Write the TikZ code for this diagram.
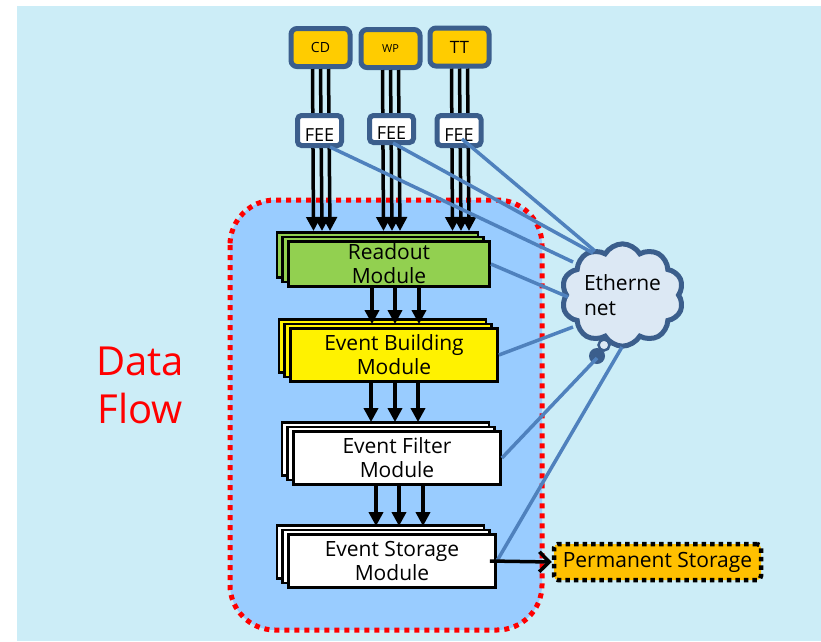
\documentclass[tikz,border=0pt]{standalone}
\usepackage{fontspec}
\setmainfont{Open Sans}
\usetikzlibrary{calc}
\usetikzlibrary{shapes,shadows}
\usetikzlibrary{arrows.meta}
\definecolor{bgcyan}{RGB}{204,237,247}
\definecolor{areablue}{RGB}{153,204,255}
\definecolor{frameblue}{RGB}{59,94,140}
\definecolor{lanblue}{RGB}{79,129,189}
\definecolor{detgold}{RGB}{255,204,0}
\definecolor{permgold}{RGB}{255,192,0}
\definecolor{rogreen}{RGB}{146,208,80}
\definecolor{cloudfill}{RGB}{220,232,244}
\tikzstyle{det} = [draw=frameblue, line width=5pt, fill=detgold, rounded corners=6pt, minimum width=59pt, minimum height=38pt, inner sep=0pt]
\tikzstyle{fee} = [draw=frameblue, line width=5pt, fill=white, rounded corners=4pt, minimum width=44pt, minimum height=30pt, inner sep=0pt, font=\fontsize{18}{18}\selectfont, text height=21pt, text depth=0pt]
\tikzstyle{bus} = [line width=3.5pt, -{Triangle[length=14pt,width=14pt]}]
\tikzstyle{lan} = [draw=lanblue, line width=3.5pt]
\tikzset{modbox/.style={draw=black, line width=2.8pt, fill=#1, minimum width=207pt, minimum height=53pt, inner sep=0pt, align=center, font=\fontsize{21}{24}\selectfont,
  copy shadow={shadow xshift=-11.5pt, shadow yshift=9pt, fill=#1, draw=black, line width=2.8pt, opacity=1},
  copy shadow={shadow xshift=-5.75pt, shadow yshift=4.5pt, fill=#1, draw=black, line width=2.8pt, opacity=1}}}

\begin{document}
\begin{tikzpicture}[x=1pt, y=-1pt]

	\useasboundingbox (0,0) rectangle (821,641);
	\fill[bgcyan] (17,6) rectangle (821,641);

	% data flow area
	\draw[fill=areablue, draw=red, line width=5pt, dash pattern=on 5pt off 5pt, rounded corners=45pt] (230,200) rectangle (542,630);
	\node[text=red, align=center, font=\fontsize{40}{48}\selectfont] (title) at (140,385) {Data\\Flow};

	% detectors
	\node[det, font=\fontsize{14}{14}\selectfont] (cd) at (320.5,47.5) {CD};
	\node[det, font=\fontsize{11}{11}\selectfont] (wp) at (390.5,48.5) {WP};
	\node[det, font=\fontsize{17}{17}\selectfont] (tt) at (459.5,47) {TT};

	% modules
	\node[modbox=rogreen, minimum width=201pt, minimum height=45pt] (ro) at (389,264) {Readout\\Module};
	\node[modbox=yellow] (eb) at (394,355) {Event Building\\Module};
	\node[modbox=white] (ef) at (397,458) {Event Filter\\Module};
	\node[modbox=white] (es) at (392,561) {Event Storage\\Module};

	\coordinate (rotop) at (389,231);

	\foreach \d in {cd,wp,tt}
		\foreach \dx/\ex in {-8/-7,0/1.5,8/9.5}
			\draw[bus] ([xshift=\dx pt]\d.south) -- ([xshift=\ex pt]\d.south |- rotop);

	\foreach \dx in {-22,1,25}
		\draw[bus] ([xshift=\dx pt]eb.north |- ro.south) -- ([xshift=\dx pt, yshift=3pt]eb.north);
	\foreach \dx in {-26,-2,21}
		\draw[bus] ([xshift=\dx pt]ef.north |- eb.south) -- ([xshift=\dx pt, yshift=8pt]ef.north);
	\foreach \dx in {-16,7,31}
		\draw[bus] ([xshift=\dx pt]es.north |- ef.south) -- ([xshift=\dx pt, yshift=7pt]es.north);

	% front end electronics
	\node[fee] (cdfee) at (319.5,130.5) {FEE};
	\node[fee, minimum height=27pt] (wpfee) at (391.5,129) {FEE};
	\node[fee] (ttfee) at (459,130.5) {FEE};

	% ethernet
	\node[cloud, cloud puffs=10, cloud puff arc=120, aspect=1.25, draw=frameblue, line width=5pt, fill=cloudfill, minimum width=122pt, minimum height=98pt, inner sep=0pt, align=left, font=\fontsize{21}{25}\selectfont] (eth) at (622.5,295) {Etherne\\net};
	\draw[frameblue, line width=2.5pt, fill=cloudfill] (604,345) circle (5.5pt);
	\fill[frameblue] (597,356) circle (8pt);

	\draw[lan] ($(cdfee.center)+(10.5,16.5)$) -- ($(eth.center)+(-49.5,-33)$);
	\draw[lan] ($(wpfee.center)+(1.5,14)$) -- ($(eth.center)+(-29.5,-42)$);
	\draw[lan] ($(ttfee.center)+(3,8.5)$) -- ($(eth.center)+(-27.5,-44)$);
	\draw[lan] (ro.east) -- ($(eth.center)+(-54.5,2)$);
	\draw[lan] (eb.east) -- ($(eth.center)+(-49.5,32)$);
	\draw[lan] (ef.east) -- ($(eth.center)+(-25.5,63)$);
	\draw[lan] (es.east) -- ($(eth.center)+(-0.5,52)$);

	% permanent storage
	\node[draw=black, line width=4.5pt, dash pattern=on 4.5pt off 4pt, fill=permgold, rounded corners=4pt, minimum width=207pt, minimum height=36pt, inner sep=0pt, font=\fontsize{21}{21}\selectfont] (perm) at (657.5,562) {Permanent Storage};
	\draw[line width=3.5pt, -{Straight Barb[length=10pt,width=20pt]}] ([xshift=-7pt]es.east) -- (perm.west);

\end{tikzpicture}
\end{document}
